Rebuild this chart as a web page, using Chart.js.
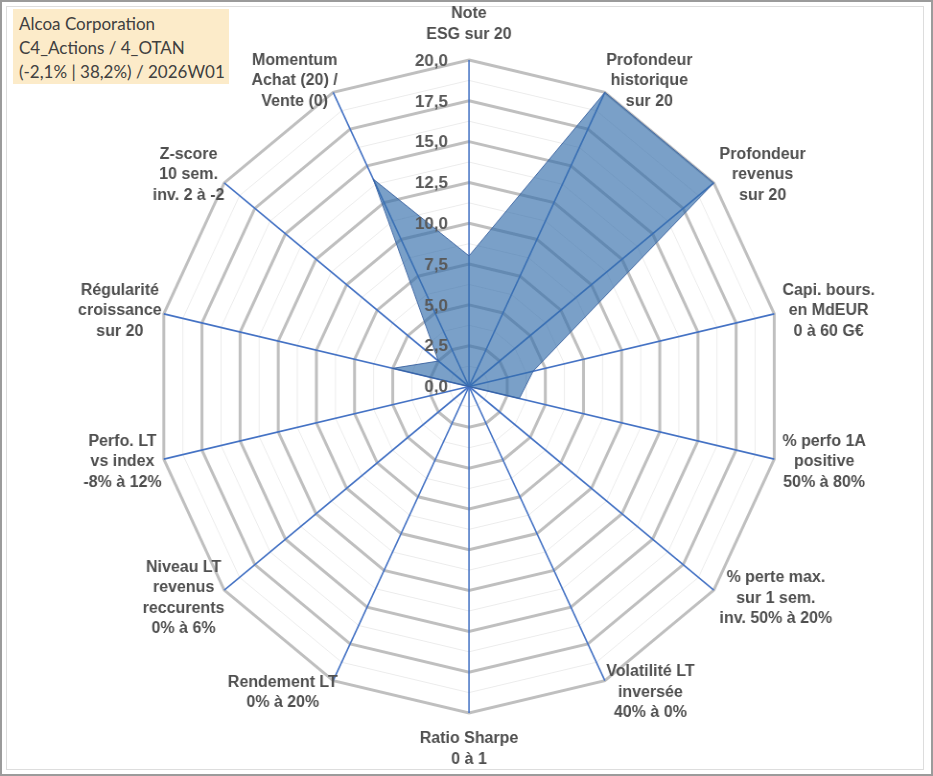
<!DOCTYPE html>
<html>
<head>
<meta charset="utf-8">
<script src="https://cdn.jsdelivr.net/npm/chart.js@4.4.1/dist/chart.umd.min.js"></script>
<style>
  html, body { margin: 0; padding: 0; background: #ffffff; }
  body { width: 933px; height: 776px; position: relative; overflow: hidden; }
  #outer { position: absolute; left: 0; top: 0; width: 933px; height: 776px; box-sizing: border-box; border: 2px solid #9b9b9b; }
  #inner { position: absolute; left: 6px; top: 6px; width: 918px; height: 764px; box-sizing: border-box; border: 1px solid #dddddd; }
  #chart { position: absolute; left: 0; top: 0; transform-origin: 0 0; }
  #title { position: absolute; left: 13px; top: 9px; width: 216px; height: 75px; background: #fcebc9;
           font-family: Lato, "Open Sans", sans-serif; font-size: 17px; line-height: 24px; color: #404040;
           padding: 3px 0 0 6px; box-sizing: border-box; white-space: nowrap; }
</style>
</head>
<body>
<div id="outer"></div>
<div id="inner"></div>
<canvas id="chart" width="973" height="776"></canvas>
<div id="title"></div>
<script>
// ---------------- data ----------------
const CATEGORIES = [
  ['Note', 'ESG sur 20'],
  ['Profondeur', 'historique', 'sur 20'],
  ['Profondeur', 'revenus', 'sur 20'],
  ['Capi. bours.', 'en MdEUR', '0 à 60 G€'],
  ['% perfo 1A', 'positive', '50% à 80%'],
  ['% perte max.', 'sur 1 sem.', 'inv. 50% à 20%'],
  ['Volatilité LT', 'inversée', '40% à 0%'],
  ['Ratio Sharpe', '0 à 1'],
  ['Rendement LT', '0% à 20%'],
  ['Niveau LT', 'revenus', 'reccurents', '0% à 6%'],
  ['Perfo. LT', 'vs index', '-8% à 12%'],
  ['Régularité', 'croissance', 'sur 20'],
  ['Z-score', '10 sem.', 'inv. 2 à -2'],
  ['Momentum', 'Achat (20) /', 'Vente (0)']
];
const SCORES = [8.0, 20, 20, 4.2, 3.3, 0, 0, 0, 0, 0, 0, 5.0, 2.5, 14.1];
const TICK_LABELS = ['0,0', '2,5', '5,0', '7,5', '10,0', '12,5', '15,0', '17,5', '20,0'];
const SCALE_MIN = 0;
const SCALE_MAX = 20;
const MINOR_STEP = 1.25;
const MAJOR_STEP = 2.5;
const TITLE_LINES = ['Alcoa Corporation', 'C4_Actions / 4_OTAN', '(-2,1% | 38,2%) / 2026W01'];

// ---------------- layout ----------------
const PAGE_W = 933;
const canvas = document.getElementById('chart');
const CW = canvas.width;
const K = PAGE_W / CW;           // horizontal squash (plot is slightly elliptical)
const CX = 469 / K, CY = 386.5, R = 326.5;
canvas.style.width = CW + 'px';
canvas.style.height = '776px';
canvas.style.transform = 'scaleX(' + K + ')';

document.getElementById('title').innerHTML = TITLE_LINES.map(t => '<div>' + t.replace(/&/g, '&amp;') + '</div>').join('');

const LABEL_FONT = 'bold 16px "Liberation Sans", Arial, sans-serif';
const TICK_FONT = 'bold 17px "Liberation Sans", Arial, sans-serif';
const TEXT_COLOR = '#4f4f4f';
const TICK_COLOR = '#595959';
const LH = 20.5;

const overlay = {
  id: 'overlay',
  afterDatasetsDraw(chart) {
    const s = chart.scales.r;
    const ctx = chart.ctx;
    ctx.save();
    // radial tick labels
    ctx.font = TICK_FONT;
    ctx.fillStyle = TICK_COLOR;
    ctx.textAlign = 'right';
    ctx.textBaseline = 'middle';
    s.ticks.forEach(t => {
      if (t.value % MAJOR_STEP !== 0) return;
      const idx = Math.round(t.value / MAJOR_STEP);
      const y = s.yCenter - s.getDistanceFromCenterForValue(t.value);
      ctx.save();
      ctx.translate(s.xCenter, y);
      ctx.scale(1 / K, 1);
      ctx.fillText(TICK_LABELS[idx], -21, 1);
      ctx.restore();
    });
    // point labels
    ctx.font = LABEL_FONT;
    ctx.fillStyle = TEXT_COLOR;
    ctx.textAlign = 'center';
    CATEGORIES.forEach((lines, i) => {
      const n = lines.length;
      const w = Math.max(...lines.map(l => ctx.measureText(l).width));
      const ang = ((s.getIndexAngle(i) * 180 / Math.PI) % 360 + 360) % 360;
      let p, dx = 0, cy = 0;
      if (Math.abs(ang) < 1 || Math.abs(ang - 360) < 1) {
        p = s.getPointPosition(i, s.drawingArea);
        cy = -(15.5 + n * LH / 2);
      } else if (Math.abs(ang - 180) < 1) {
        p = s.getPointPosition(i, s.drawingArea);
        cy = 15.5 + n * LH / 2;
      } else if (ang < 180) {
        p = s.getPointPosition(i, s.drawingArea + 13);
        dx = -4 + w / 2;
      } else {
        p = s.getPointPosition(i, s.drawingArea + 13);
        dx = 10 - w / 2;
      }
      ctx.save();
      ctx.translate(p.x, p.y);
      ctx.scale(1 / K, 1);
      lines.forEach((l, j) => {
        ctx.fillText(l, dx, cy + (j - (n - 1) / 2) * LH);
      });
      ctx.restore();
    });
    ctx.restore();
  }
};

new Chart(canvas, {
  type: 'radar',
  data: {
    labels: CATEGORIES.map(c => c.join(' ')),
    datasets: [{
      data: SCORES,
      backgroundColor: 'rgba(50,109,170,0.65)',
      borderColor: 'rgba(58,98,160,0.9)',
      borderWidth: 1,
      pointRadius: 0,
      pointHoverRadius: 0,
      fill: true
    }]
  },
  options: {
    responsive: false,
    animation: false,
    events: [],
    layout: { padding: 0 },
    plugins: { legend: { display: false }, tooltip: { enabled: false } },
    scales: {
      r: {
        min: SCALE_MIN,
        max: SCALE_MAX,
        beginAtZero: true,
        ticks: { stepSize: MINOR_STEP, display: false },
        pointLabels: { display: false },
        grid: {
          color: c => (c.tick && c.tick.value % MAJOR_STEP === 0) ? '#bfbfbf' : '#ececec',
          lineWidth: c => (c.tick && c.tick.value % MAJOR_STEP === 0) ? 3 : 1
        },
        angleLines: { color: '#4472c4', lineWidth: 1.6 },
        afterFit(s) {
          s.xCenter = CX;
          s.yCenter = CY;
          s.drawingArea = R;
        }
      }
    }
  },
  plugins: [overlay]
});
</script>
</body>
</html>
